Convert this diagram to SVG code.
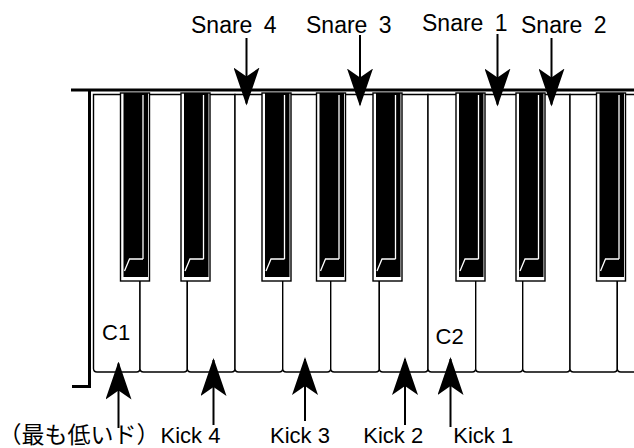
<svg xmlns="http://www.w3.org/2000/svg" width="634" height="448" viewBox="0 0 634 448">
  <style>
    .wk { fill: #fff; stroke: #000; stroke-width: 1.4; }
    .bk-out { fill: #fff; stroke: #000; stroke-width: 1.4; }
    .bk-in { fill: #000; }
    .hl { fill: none; stroke: #fff; stroke-width: 1.3; }
    .frame { fill: none; stroke: #000; stroke-width: 3; }
    .shaft { stroke: #000; stroke-width: 2; fill: none; }
    .lbl { font-family: "Liberation Sans", Arial, Helvetica, sans-serif; font-size: 22px; fill: #000; }
    .snare { font-family: "Liberation Sans", Arial, Helvetica, sans-serif; font-size: 23px; word-spacing: 5px; fill: #000; }
    .jp { font-family: "Liberation Sans", "Noto Sans CJK JP", sans-serif; font-size: 23px; fill: #000; }
  </style>
  <defs>
    <!-- concave-backed arrowhead, tip at the end of the line -->
    <marker id="head" viewBox="0 0 38 26" refX="36" refY="13" markerWidth="38" markerHeight="26" markerUnits="userSpaceOnUse" orient="auto">
      <path d="M38,13 L0,0 L9,13 L0,26 Z" fill="#000"/>
    </marker>
    <!-- one black key: outline, black body, highlight and front bevel -->
    <g id="blackkey">
      <rect class="bk-out" x="0" y="93" width="29" height="188"/>
      <rect class="bk-in" x="3" y="93" width="24.5" height="184"/>
      <line class="hl" x1="22.5" y1="95" x2="22.5" y2="259"/>
      <polyline class="hl" points="4,271 9,259 22.5,259"/>
    </g>
  </defs>

  <!-- keyboard frame -->
  <g id="frame">
    <line class="frame" x1="71" y1="90" x2="634" y2="90"/>
    <polyline class="frame" points="89.5,89 89.5,386.5 72,386.5"/>
  </g>

  <!-- white keys -->
  <g id="white-keys">
    <path id="key-c1" class="wk" d="M93.5,94.5 V368.5 Q93.5,372 97,372 H136.5 Q140,372 140,368.5 V94.5 Z"/>
    <path class="wk" d="M140,94.5 V368.5 Q140,372 143.5,372 H183.8 Q187.3,372 187.3,368.5 V94.5 Z"/>
    <path class="wk" d="M187.3,94.5 V368.5 Q187.3,372 190.8,372 H231.5 Q235,372 235,368.5 V94.5 Z"/>
    <path class="wk" d="M235,94.5 V368.5 Q235,372 238.5,372 H279.2 Q282.7,372 282.7,368.5 V94.5 Z"/>
    <path class="wk" d="M282.7,94.5 V368.5 Q282.7,372 286.2,372 H327.2 Q330.7,372 330.7,368.5 V94.5 Z"/>
    <path class="wk" d="M330.7,94.5 V368.5 Q330.7,372 334.2,372 H375.8 Q379.3,372 379.3,368.5 V94.5 Z"/>
    <path class="wk" d="M379.3,94.5 V368.5 Q379.3,372 382.8,372 H424.5 Q428,372 428,368.5 V94.5 Z"/>
    <path id="key-c2" class="wk" d="M428,94.5 V368.5 Q428,372 431.5,372 H472.2 Q475.7,372 475.7,368.5 V94.5 Z"/>
    <path class="wk" d="M475.7,94.5 V368.5 Q475.7,372 479.2,372 H519.2 Q522.7,372 522.7,368.5 V94.5 Z"/>
    <path class="wk" d="M522.7,94.5 V368.5 Q522.7,372 526.2,372 H566.5 Q570,372 570,368.5 V94.5 Z"/>
    <path class="wk" d="M570,94.5 V368.5 Q570,372 573.5,372 H613.8 Q617.3,372 617.3,368.5 V94.5 Z"/>
    <path class="wk" d="M617.3,94.5 V368.5 Q617.3,372 620.8,372 H661.5 Q665,372 665,368.5 V94.5 Z"/>
  </g>

  <!-- black keys -->
  <g id="black-keys">
    <use href="#blackkey" x="120.5"/>
    <use href="#blackkey" x="181"/>
    <use href="#blackkey" x="262"/>
    <use href="#blackkey" x="316.5"/>
    <use href="#blackkey" x="373"/>
    <use href="#blackkey" x="456"/>
    <use href="#blackkey" x="516"/>
    <use href="#blackkey" x="596.5"/>
  </g>

  <!-- octave labels -->
  <g id="octave-labels">
    <text class="lbl" x="102" y="340">C1</text>
    <text class="lbl" x="435.5" y="344">C2</text>
  </g>

  <!-- snare labels -->
  <g id="snare-4"><text class="snare" x="191" y="32.5">Snare 4</text></g>
  <g id="snare-3"><text class="snare" x="306" y="32.5">Snare 3</text></g>
  <g id="snare-1"><text class="snare" x="422" y="31">Snare 1</text></g>
  <g id="snare-2"><text class="snare" x="521" y="32.5">Snare 2</text></g>

  <!-- kick labels -->
  <g id="lowest-c"><text class="jp" x="79" y="443" text-anchor="middle">（最も低いド）</text></g>
  <g id="kick-4"><text class="lbl" x="160.5" y="443">Kick 4</text></g>
  <g id="kick-3"><text class="lbl" x="270" y="443">Kick 3</text></g>
  <g id="kick-2"><text class="lbl" x="363.3" y="443">Kick 2</text></g>
  <g id="kick-1"><text class="lbl" x="453.3" y="443">Kick 1</text></g>

  <!-- pointer arrows -->
  <g id="connectors">
    <line class="shaft" x1="246.5" y1="38" x2="246.5" y2="103.5" marker-end="url(#head)"/>
    <line class="shaft" x1="360" y1="35" x2="360" y2="104.5" marker-end="url(#head)"/>
    <line class="shaft" x1="497.5" y1="34" x2="497.5" y2="104.5" marker-end="url(#head)"/>
    <line class="shaft" x1="551.5" y1="38" x2="551.5" y2="104.5" marker-end="url(#head)"/>
    <line class="shaft" x1="118.5" y1="428" x2="118.5" y2="363.5" marker-end="url(#head)"/>
    <line class="shaft" x1="213.5" y1="425" x2="213.5" y2="360" marker-end="url(#head)"/>
    <line class="shaft" x1="305" y1="421" x2="305" y2="359" marker-end="url(#head)"/>
    <line class="shaft" x1="405" y1="425" x2="405" y2="359" marker-end="url(#head)"/>
    <line class="shaft" x1="450.5" y1="427" x2="450.5" y2="359" marker-end="url(#head)"/>
  </g>
</svg>
